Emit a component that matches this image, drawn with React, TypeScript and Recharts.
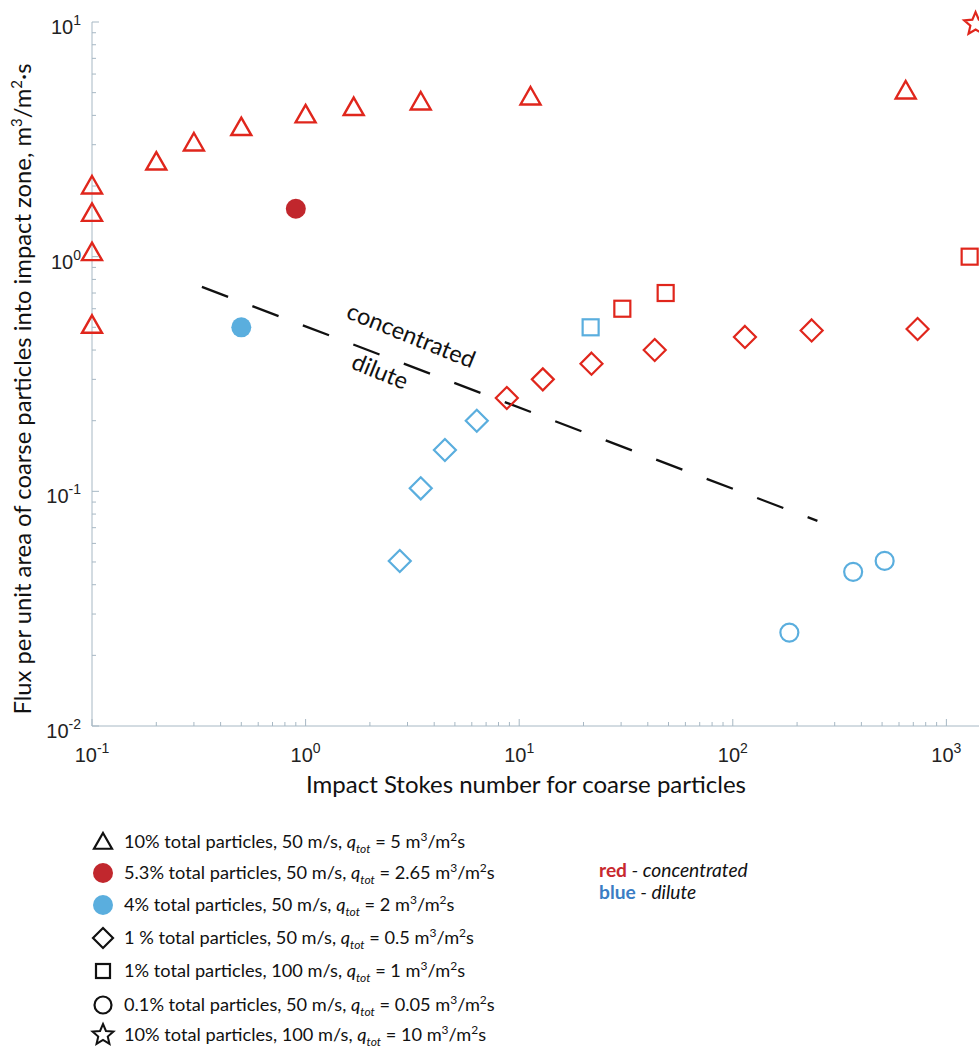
import React from "react";
import { ScatterChart, Scatter, XAxis, YAxis, ReferenceLine } from "recharts";

// Impact Stokes number (x) vs flux into impact zone (y)
const triangles10pct50 = [
  { x: 0.1, y: 2.0 },
  { x: 0.1, y: 1.53 },
  { x: 0.1, y: 1.04 },
  { x: 0.1, y: 0.51 },
  { x: 0.2, y: 2.53 },
  { x: 0.3, y: 3.05 },
  { x: 0.5, y: 3.55 },
  { x: 1.0, y: 4.02 },
  { x: 1.68, y: 4.32 },
  { x: 3.46, y: 4.56 },
  { x: 11.3, y: 4.79 },
  { x: 645, y: 5.08 },
];
const dots53pct = [{ x: 0.9, y: 1.6 }];
const dots4pct = [{ x: 0.5, y: 0.5 }];
const diamondsRed = [
  { x: 8.75, y: 0.25 },
  { x: 12.9, y: 0.3 },
  { x: 21.8, y: 0.35 },
  { x: 43.1, y: 0.4 },
  { x: 114, y: 0.455 },
  { x: 234, y: 0.485 },
  { x: 733, y: 0.492 },
];
const diamondsBlue = [
  { x: 2.76, y: 0.0505 },
  { x: 3.46, y: 0.103 },
  { x: 4.49, y: 0.15 },
  { x: 6.33, y: 0.2 },
];
const squaresRed = [
  { x: 30.4, y: 0.6 },
  { x: 48.5, y: 0.7 },
  { x: 1285, y: 1.0 },
];
const squaresBlue = [{ x: 21.6, y: 0.5 }];
const circlesBlue = [
  { x: 184, y: 0.025 },
  { x: 366, y: 0.0454 },
  { x: 514, y: 0.0505 },
];
const starsRed = [{ x: 1370, y: 9.8 }];

// regime boundary (dashed)
const boundary = [
  { x: 0.327, y: 0.743 },
  { x: 249, y: 0.0748 },
];

const xMajorTicks = [0.1, 1, 10, 100, 1000];
const xMinorTicks = [
  0.2, 0.3, 0.4, 0.5, 0.6, 0.7, 0.8, 0.9, 2, 3, 4, 5, 6, 7, 8, 9, 20, 30, 40, 50,
  60, 70, 80, 90, 200, 300, 400, 500, 600, 700, 800, 900,
];
const yMajorTicks = [0.01, 0.1, 1, 10];
const yMinorTicks = [
  0.02, 0.03, 0.04, 0.05, 0.06, 0.07, 0.08, 0.09, 0.2, 0.3, 0.4, 0.5, 0.6, 0.7,
  0.8, 0.9, 2, 3, 4, 5, 6, 7, 8, 9,
];

const legendRows = [
  { shape: "triangle", pre: "10% total particles, 50 m/s, ", q: "5" },
  { shape: "dotRed", pre: "5.3% total particles, 50 m/s, ", q: "2.65" },
  { shape: "dotBlue", pre: "4% total particles, 50 m/s, ", q: "2" },
  { shape: "diamond", pre: "1 % total particles, 50 m/s, ", q: "0.5" },
  { shape: "square", pre: "1% total particles, 100 m/s, ", q: "1" },
  { shape: "circle", pre: "0.1% total particles, 50 m/s, ", q: "0.05" },
  { shape: "star", pre: "10% total particles, 100 m/s, ", q: "10" },
];

const RED = "#e0261c";
const DARK_RED = "#c1272d";
const BLUE = "#5aaede";
const AXIS = "#a7b8c4";
const TICK_FONT = "'Liberation Sans', Arial, sans-serif";
const TEXT_FONT = "Lato, 'Open Sans', sans-serif";

const allX = [...xMajorTicks, ...xMinorTicks].sort((a, b) => a - b);
const allY = [...yMajorTicks, ...yMinorTicks].sort((a, b) => a - b);

const isMajor = (v: number) => Math.abs(Math.log10(v) - Math.round(Math.log10(v))) < 1e-6;

const Pow = ({ v }: { v: number }) => (
  <>
    <tspan>10</tspan>
    <tspan dy={-9} fontSize={14}>
      {Math.round(Math.log10(v))}
    </tspan>
  </>
);

const BottomTick = (props: any) => {
  const { x, y, payload } = props;
  const major = isMajor(payload.value);
  return (
    <g>
      <line x1={x} x2={x} y1={y} y2={y - (major ? 7 : 4)} stroke={AXIS} strokeWidth={1} />
      {major && (
        <text x={x} y={y + 36} textAnchor="middle" fontSize={20} fontFamily={TICK_FONT} fill="#222">
          <Pow v={payload.value} />
        </text>
      )}
    </g>
  );
};

const TopTick = (props: any) => {
  const { x, y, payload } = props;
  const major = isMajor(payload.value);
  return <line x1={x} x2={x} y1={y} y2={y + (major ? 7 : 4)} stroke={AXIS} strokeWidth={1} />;
};

const LeftTick = (props: any) => {
  const { x, y, payload } = props;
  const major = isMajor(payload.value);
  return (
    <g>
      <line x1={x} x2={x + (major ? 7 : 4)} y1={y} y2={y} stroke={AXIS} strokeWidth={1} />
      {major && (
        <text x={x - 11} y={y + 12} textAnchor="end" fontSize={20} fontFamily={TICK_FONT} fill="#222">
          <Pow v={payload.value} />
        </text>
      )}
    </g>
  );
};

const RightTick = (props: any) => {
  const { x, y, payload } = props;
  const major = isMajor(payload.value);
  return <line x1={x} x2={x - (major ? 7 : 4)} y1={y} y2={y} stroke={AXIS} strokeWidth={1} />;
};

// marker shapes
const triPath = (cx: number, cy: number, r = 10) =>
  `M${cx},${cy - r} L${cx + r},${cy + r * 0.75} L${cx - r},${cy + r * 0.75} Z`;
const diaPath = (cx: number, cy: number, r = 11) =>
  `M${cx},${cy - r} L${cx + r},${cy} L${cx},${cy + r} L${cx - r},${cy} Z`;
const starPath = (cx: number, cy: number, ro = 12, ri = 5.5) => {
  let d = "";
  for (let i = 0; i < 10; i++) {
    const r = i % 2 === 0 ? ro : ri;
    const a = -Math.PI / 2 + (i * Math.PI) / 5;
    d += `${i === 0 ? "M" : "L"}${cx + r * Math.cos(a)},${cy + r * Math.sin(a)} `;
  }
  return d + "Z";
};

const Triangle = (color: string) => (p: any) =>
  <path d={triPath(p.cx, p.cy)} fill="none" stroke={color} strokeWidth={2.4} strokeLinejoin="miter" />;
const Diamond = (color: string) => (p: any) =>
  <path d={diaPath(p.cx, p.cy)} fill="none" stroke={color} strokeWidth={2.2} />;
const Square = (color: string) => (p: any) =>
  <rect x={p.cx - 8} y={p.cy - 8} width={16} height={16} fill="none" stroke={color} strokeWidth={2.2} />;
const Ring = (color: string) => (p: any) =>
  <circle cx={p.cx} cy={p.cy} r={9} fill="none" stroke={color} strokeWidth={2.2} />;
const Dot = (color: string) => (p: any) => <circle cx={p.cx} cy={p.cy} r={10} fill={color} />;
const Star = (color: string) => (p: any) =>
  <path d={starPath(p.cx, p.cy)} fill="none" stroke={color} strokeWidth={2.2} />;

const LegendIcon = ({ shape, cx, cy }: { shape: string; cx: number; cy: number }) => {
  const k = "#111";
  switch (shape) {
    case "triangle":
      return <path d={triPath(cx, cy, 9)} fill="none" stroke={k} strokeWidth={2.2} />;
    case "dotRed":
      return <circle cx={cx} cy={cy} r={10} fill={DARK_RED} />;
    case "dotBlue":
      return <circle cx={cx} cy={cy} r={10} fill={BLUE} />;
    case "diamond":
      return <path d={diaPath(cx, cy, 10)} fill="none" stroke={k} strokeWidth={2.2} />;
    case "square":
      return <rect x={cx - 7} y={cy - 7} width={14} height={14} fill="none" stroke={k} strokeWidth={2.2} />;
    case "circle":
      return <circle cx={cx} cy={cy} r={8.5} fill="none" stroke={k} strokeWidth={2.2} />;
    default:
      return <path d={starPath(cx, cy, 11, 5)} fill="none" stroke={k} strokeWidth={2} />;
  }
};

const legendY = [842, 873, 905, 938, 971, 1005, 1035];

export default function App() {
  return (
    <div style={{ position: "relative", width: 979, height: 1050, overflow: "hidden", background: "#fff" }}>
      <style>{`body{margin:0;overflow:hidden}`}</style>
      <ScatterChart width={984} height={806} margin={{ top: 22, right: 0, bottom: 0, left: 0 }}>
        <XAxis
          type="number"
          dataKey="x"
          scale="log"
          domain={[0.1, 1500]}
          ticks={allX}
          interval={0}
          height={80}
          tickSize={0}
          tickMargin={0}
          tickLine={false}
          axisLine={{ stroke: AXIS }}
          tick={BottomTick}
        />
        <XAxis
          xAxisId="top"
          orientation="top"
          type="number"
          dataKey="x"
          scale="log"
          domain={[0.1, 1500]}
          ticks={allX}
          interval={0}
          height={0}
          tickSize={0}
          tickMargin={0}
          tickLine={false}
          axisLine={{ stroke: AXIS }}
          tick={TopTick}
        />
        <YAxis
          type="number"
          dataKey="y"
          scale="log"
          domain={[0.01, 10]}
          ticks={allY}
          interval={0}
          width={92}
          tickSize={0}
          tickMargin={0}
          tickLine={false}
          axisLine={{ stroke: AXIS }}
          tick={LeftTick}
        />
        <YAxis
          yAxisId="right"
          orientation="right"
          type="number"
          dataKey="y"
          scale="log"
          domain={[0.01, 10]}
          ticks={allY}
          interval={0}
          width={0}
          tickSize={0}
          tickMargin={0}
          tickLine={false}
          axisLine={{ stroke: AXIS }}
          tick={RightTick}
        />
        <ReferenceLine
          segment={boundary}
          stroke="#111"
          strokeWidth={2.3}
          strokeDasharray="28 26"
          ifOverflow="visible"
        />
        <Scatter data={triangles10pct50} shape={Triangle(RED)} isAnimationActive={false} />
        <Scatter data={dots53pct} shape={Dot(DARK_RED)} isAnimationActive={false} />
        <Scatter data={dots4pct} shape={Dot(BLUE)} isAnimationActive={false} />
        <Scatter data={diamondsRed} shape={Diamond(RED)} isAnimationActive={false} />
        <Scatter data={diamondsBlue} shape={Diamond(BLUE)} isAnimationActive={false} />
        <Scatter data={squaresRed} shape={Square(RED)} isAnimationActive={false} />
        <Scatter data={squaresBlue} shape={Square(BLUE)} isAnimationActive={false} />
        <Scatter data={circlesBlue} shape={Ring(BLUE)} isAnimationActive={false} />
        <Scatter data={starsRed} shape={Star(RED)} isAnimationActive={false} />
      </ScatterChart>

      <svg
        width={979}
        height={1050}
        style={{ position: "absolute", left: 0, top: 0, pointerEvents: "none" }}
        fontFamily={TEXT_FONT}
      >
        {/* axis titles */}
        <text x={526} y={793} textAnchor="middle" fontSize={24} fill="#111">
          Impact Stokes number for coarse particles
        </text>
        <text
          transform="translate(31,389) rotate(-90)"
          textAnchor="middle"
          fontSize={23.8}
          fill="#111"
        >
          Flux per unit area of coarse particles into impact zone, m
          <tspan fontSize={15} dy={-9}>3</tspan>
          <tspan dy={9}>/m</tspan>
          <tspan fontSize={15} dy={-9}>2</tspan>
          <tspan dy={9}>·s</tspan>
        </text>

        {/* regime labels */}
        <text transform="translate(408,343) rotate(22)" textAnchor="middle" fontSize={23.5} fill="#111">
          concentrated
        </text>
        <text transform="translate(377,379) rotate(22)" textAnchor="middle" fontSize={23.5} fill="#111">
          dilute
        </text>

        {/* legend */}
        {legendRows.map((r, i) => (
          <g key={r.shape}>
            <LegendIcon shape={r.shape} cx={103} cy={legendY[i]} />
            <text x={124} y={legendY[i] + 6} fontSize={18.2} fill="#111">
              <tspan>{r.pre}</tspan>
              <tspan fontStyle="italic">q</tspan>
              <tspan fontStyle="italic" fontSize={12} dy={5}>tot</tspan>
              <tspan dy={-5}>{` = ${r.q} m`}</tspan>
              <tspan fontSize={12} dy={-7}>3</tspan>
              <tspan dy={7}>/m</tspan>
              <tspan fontSize={12} dy={-7}>2</tspan>
              <tspan dy={7}>s</tspan>
            </text>
          </g>
        ))}
        <text x={599} y={877} fontSize={19.2} fill="#111">
          <tspan fontWeight="bold" fill="#c8282e">red</tspan>
          <tspan fontStyle="italic"> - concentrated</tspan>
        </text>
        <text x={599} y={899} fontSize={19.2} fill="#111">
          <tspan fontWeight="bold" fill="#3b7dc4">blue</tspan>
          <tspan fontStyle="italic"> - dilute</tspan>
        </text>
      </svg>
    </div>
  );
}
